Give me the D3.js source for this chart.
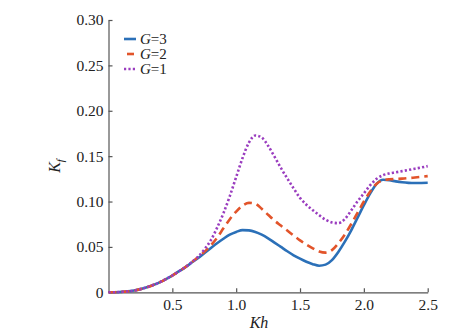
<!DOCTYPE html>
<html>
<head>
<meta charset="utf-8">
<script src="https://cdn.jsdelivr.net/npm/d3@7"></script>
<style>
  body { margin: 0; background: #fff; }
</style>
</head>
<body>
<svg id="chart" width="471" height="334"></svg>
<script>
'use strict'

// Kh values (x axis)
const kh = [0, 0.05, 0.1, 0.15, 0.2, 0.25, 0.3, 0.35, 0.4, 0.45, 0.5, 0.55, 0.6, 0.65, 0.7, 0.75,
  0.8, 0.85, 0.9, 0.95, 1.0, 1.05, 1.1, 1.15, 1.2, 1.25, 1.3, 1.35, 1.4, 1.45, 1.5, 1.55, 1.6,
  1.65, 1.7, 1.75, 1.8, 1.85, 1.9, 1.95, 2.0, 2.05, 2.1, 2.15, 2.2, 2.25, 2.3, 2.35, 2.4, 2.45, 2.5]

// Kf for G=3
const kfG3 = [0, 0.0001, 0.0005, 0.001, 0.002, 0.0035, 0.0055, 0.008, 0.011, 0.0145, 0.0185, 0.023,
  0.0275, 0.0325, 0.0375, 0.043, 0.0485, 0.054, 0.059, 0.0635, 0.0665, 0.0685, 0.0682, 0.0665,
  0.0635, 0.0595, 0.0548, 0.05, 0.0452, 0.0408, 0.037, 0.0336, 0.031, 0.0293, 0.0305, 0.0355,
  0.0445, 0.0555, 0.068, 0.082, 0.096, 0.109, 0.1195, 0.124, 0.1235, 0.1222, 0.1212, 0.1206,
  0.1204, 0.1205, 0.1207]

// Kf for G=2
const kfG2 = [0, 0.0001, 0.0005, 0.001, 0.002, 0.0035, 0.0055, 0.008, 0.011, 0.0145, 0.0185, 0.023,
  0.0275, 0.033, 0.0385, 0.0445, 0.0515, 0.06, 0.0705, 0.0805, 0.089, 0.0955, 0.0985, 0.0975,
  0.092, 0.0855, 0.079, 0.0735, 0.068, 0.0625, 0.0572, 0.0525, 0.0485, 0.045, 0.0437, 0.0465,
  0.054, 0.0635, 0.075, 0.0875, 0.1, 0.111, 0.1195, 0.1235, 0.1245, 0.1248, 0.1252, 0.1258,
  0.1265, 0.1272, 0.128]

// Kf for G=1
const kfG1 = [0, 0.0001, 0.0005, 0.001, 0.002, 0.0035, 0.0055, 0.008, 0.011, 0.0145, 0.0185, 0.023,
  0.0275, 0.033, 0.039, 0.047, 0.057, 0.071, 0.087, 0.106, 0.127, 0.148, 0.165, 0.1728, 0.1705,
  0.1615, 0.1495, 0.137, 0.1255, 0.1145, 0.104, 0.0965, 0.0905, 0.085, 0.08, 0.077, 0.0762,
  0.0805, 0.09, 0.1, 0.109, 0.118, 0.125, 0.129, 0.131, 0.1322, 0.1335, 0.1348, 0.1362, 0.1375,
  0.139]

const xTicks = [0.5, 1.0, 1.5, 2.0, 2.5]
const yTicks = [0, 0.05, 0.10, 0.15, 0.20, 0.25, 0.30]

const seriesNames = ['3', '2', '1']
const seriesValues = [kfG3, kfG2, kfG1]

const styles = [
  { color: '#2b70b8', dash: null, width: 2.6 },
  { color: '#e2542a', dash: '8,5', width: 2.6 },
  { color: '#9a3dbf', dash: '2.2,2.2', width: 2.6 }
]

const svg = d3.select('#chart')

const x = d3.scaleLinear().domain([0, 2.5]).range([108.5, 427.7])
const y = d3.scaleLinear().domain([0, 0.30]).range([292.3, 20])

// axes
svg.append('g')
  .attr('transform', 'translate(0,' + y(0) + ')')
  .call(d3.axisBottom(x).tickValues(xTicks).tickFormat(d3.format('.1f'))
    .tickSizeInner(-4).tickSizeOuter(0).tickPadding(7))

svg.append('g')
  .attr('transform', 'translate(' + x(0) + ',0)')
  .call(d3.axisLeft(y).tickValues(yTicks).tickFormat(d => d === 0 ? '0' : d3.format('.2f')(d))
    .tickSizeInner(-4).tickSizeOuter(0).tickPadding(5))

svg.selectAll('.domain, .tick line').attr('stroke', '#555').attr('stroke-width', 1.2)
svg.selectAll('.tick text')
  .attr('font-size', 15.5)
  .attr('fill', '#222')

// curves
const line = d3.line()
  .x((d, i) => x(kh[i]))
  .y(d => y(d))
  .curve(d3.curveMonotoneX)

seriesValues.forEach((vals, k) => {
  svg.append('path')
    .datum(vals)
    .attr('d', line)
    .attr('fill', 'none')
    .attr('stroke', styles[k].color)
    .attr('stroke-width', styles[k].width)
    .attr('stroke-dasharray', styles[k].dash)
})

// legend
seriesNames.forEach((name, k) => {
  const ly = 39 + k * 15
  const row = svg.append('g').attr('transform', 'translate(124,' + ly + ')')
  row.append('line')
    .attr('x1', k === 1 ? 3 : 0).attr('x2', k === 1 ? 10 : 12)
    .attr('y1', 0).attr('y2', 0)
    .attr('stroke', styles[k].color)
    .attr('stroke-width', 2.6)
    .attr('stroke-dasharray', styles[k].dash)
  const t = row.append('text')
    .attr('x', 16).attr('y', 5)
    .attr('font-size', 15)
    .attr('fill', '#222')
  t.append('tspan').attr('font-style', 'italic').text('G')
  t.append('tspan').text('=' + name)
})

// axis titles
svg.append('text')
  .attr('x', 259).attr('y', 328)
  .attr('text-anchor', 'middle')
  .attr('font-size', 16)
  .attr('font-style', 'italic')
  .attr('fill', '#222')
  .text('Kh')

const yt = svg.append('text')
  .attr('transform', 'translate(60,166) rotate(-90)')
  .attr('text-anchor', 'middle')
  .attr('font-size', 16)
  .attr('font-style', 'italic')
  .attr('fill', '#222')
yt.append('tspan').text('K')
yt.append('tspan').attr('font-size', 11).attr('dy', 4).text('f')

// serif everywhere
svg.selectAll('g').attr('font-family', 'Liberation Serif')
svg.selectAll('text').attr('font-family', 'Liberation Serif')
</script>
</body>
</html>
